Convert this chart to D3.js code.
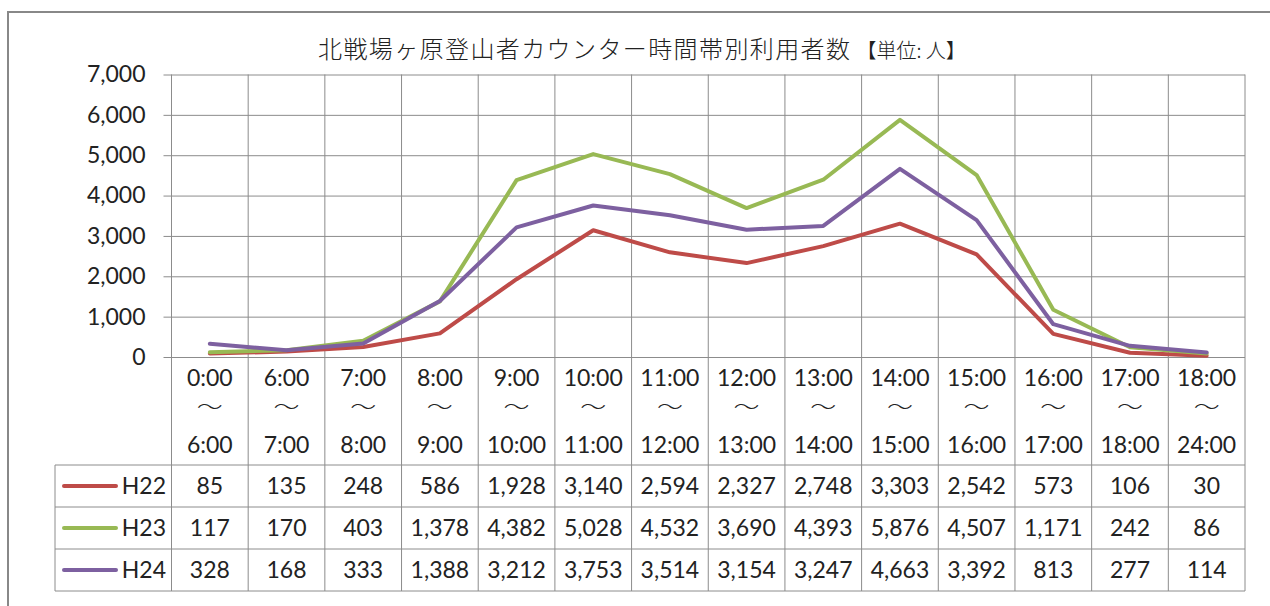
<!DOCTYPE html>
<html>
<head>
<meta charset="utf-8">
<script src="https://cdn.jsdelivr.net/npm/d3@7"></script>
<style>
  body { margin: 0; background: #fff; }
  text { font-family: Lato, "Noto Sans", sans-serif; fill: #222; }
</style>
</head>
<body>
<svg id="chart" width="1270" height="606"></svg>
<script>
// time slots (two lines of the header, joined by a wave dash)
const slotFrom = ["0:00", "6:00", "7:00", "8:00", "9:00", "10:00", "11:00", "12:00", "13:00", "14:00", "15:00", "16:00", "17:00", "18:00"];
const slotTo = ["6:00", "7:00", "8:00", "9:00", "10:00", "11:00", "12:00", "13:00", "14:00", "15:00", "16:00", "17:00", "18:00", "24:00"];

const seriesNames = ["H22", "H23", "H24"];
const h22 = [85, 135, 248, 586, 1928, 3140, 2594, 2327, 2748, 3303, 2542, 573, 106, 30];
const h23 = [117, 170, 403, 1378, 4382, 5028, 4532, 3690, 4393, 5876, 4507, 1171, 242, 86];
const h24 = [328, 168, 333, 1388, 3212, 3753, 3514, 3154, 3247, 4663, 3392, 813, 277, 114];
const yTicks = [0, 1000, 2000, 3000, 4000, 5000, 6000, 7000];

const series = [
  { name: seriesNames[0], values: h22, color: "#be4b48" },
  { name: seriesNames[1], values: h23, color: "#98b954" },
  { name: seriesNames[2], values: h24, color: "#7d60a0" }
];

const svg = d3.select("#chart");
const grid = "#8c8c8c";
const plotL = 171.5, plotR = 1245, plotT = 74.5, plotB = 357;
const headBottom = 465, rowH = 42, tableLeft = 55;

// chart area frame
svg.append("rect").attr("x", 8).attr("y", 12).attr("width", 1280).attr("height", 620)
  .attr("fill", "none").attr("stroke", "#888").attr("stroke-width", 2);

const title = svg.append("text").attr("x", 318).attr("y", 58)
  .style("font-family", "'Noto Sans CJK JP', sans-serif").style("font-weight", 300);
title.append("tspan").style("font-size", "24px").style("letter-spacing", "1.4px")
  .text("北戦場ヶ原登山者カウンター時間帯別利用者数");
title.append("tspan").attr("dx", 5).style("font-size", "20px").text("【単位: 人】");

const x = d3.scaleBand().domain(d3.range(slotFrom.length)).range([plotL, plotR]);
const y = d3.scaleLinear().domain([0, 7000]).range([plotB, plotT]);

// horizontal gridlines + y axis
const yAxis = d3.axisLeft(y).tickValues(yTicks).tickSize(-(plotR - plotL)).tickSizeOuter(0)
  .tickFormat(d3.format(","));
const gy = svg.append("g").attr("transform", `translate(${plotL},0)`).call(yAxis);
gy.select(".domain").remove();
gy.selectAll(".tick line").attr("stroke", grid).attr("x1", -8);
gy.selectAll(".tick text").attr("x", -26).style("font-size", "23px").style("font-family", "Lato").attr("fill", "#222");

// vertical lines through plot area and header
const bounds = d3.range(slotFrom.length + 1).map(i => i < slotFrom.length ? x(i) : plotR);
svg.append("g").selectAll("line").data(bounds).join("line")
  .attr("x1", d => d).attr("x2", d => d).attr("y1", plotT).attr("y2", headBottom + rowH * 3)
  .attr("stroke", grid);

// table horizontal rules
const rules = [headBottom, headBottom + rowH, headBottom + rowH * 2, headBottom + rowH * 3];
svg.append("g").selectAll("line").data(rules).join("line")
  .attr("x1", tableLeft).attr("x2", plotR).attr("y1", d => d).attr("y2", d => d)
  .attr("stroke", grid);
svg.append("line").attr("x1", tableLeft).attr("x2", tableLeft)
  .attr("y1", headBottom).attr("y2", headBottom + rowH * 3).attr("stroke", grid);

// header labels
const cx = i => x(i) + x.bandwidth() / 2;
const head = svg.append("g").style("font-size", "23px").attr("text-anchor", "middle");
head.selectAll(".from").data(slotFrom).join("text").attr("x", (d, i) => cx(i)).attr("y", 386).text(d => d);
head.selectAll(".wave").data(slotFrom).join("text").attr("x", (d, i) => cx(i)).attr("y", 417)
  .attr("transform", (d, i) => `translate(${cx(i)},407) scale(1,0.75) translate(${-cx(i)},-407)`)
  .style("font-family", "'Noto Sans CJK JP'").style("font-size", "26px").style("font-weight", 300).text("～");
head.selectAll(".to").data(slotTo).join("text").attr("x", (d, i) => cx(i)).attr("y", 453).text(d => d);

// series lines
const line = d3.line().x((d, i) => cx(i)).y(d => y(d));
svg.append("g").selectAll("path").data(series).join("path")
  .attr("d", s => line(s.values)).attr("fill", "none")
  .attr("stroke", s => s.color).attr("stroke-width", 4)
  .attr("stroke-linejoin", "round").attr("stroke-linecap", "round");

// data rows
const fmt = d3.format(",");
series.forEach((s, r) => {
  const yy = headBottom + rowH * r + rowH / 2 + 8;
  const g = svg.append("g").style("font-size", "23px");
  g.append("line").attr("x1", 64).attr("x2", 116).attr("y1", yy - 8).attr("y2", yy - 8)
    .attr("stroke", s.color).attr("stroke-width", 4).attr("stroke-linecap", "round");
  g.append("text").attr("x", 166).attr("y", yy).attr("text-anchor", "end").text(s.name);
  g.selectAll(".v").data(s.values).join("text").attr("x", (d, i) => cx(i)).attr("y", yy)
    .attr("text-anchor", "middle").text(d => fmt(d));
});
</script>
</body>
</html>
